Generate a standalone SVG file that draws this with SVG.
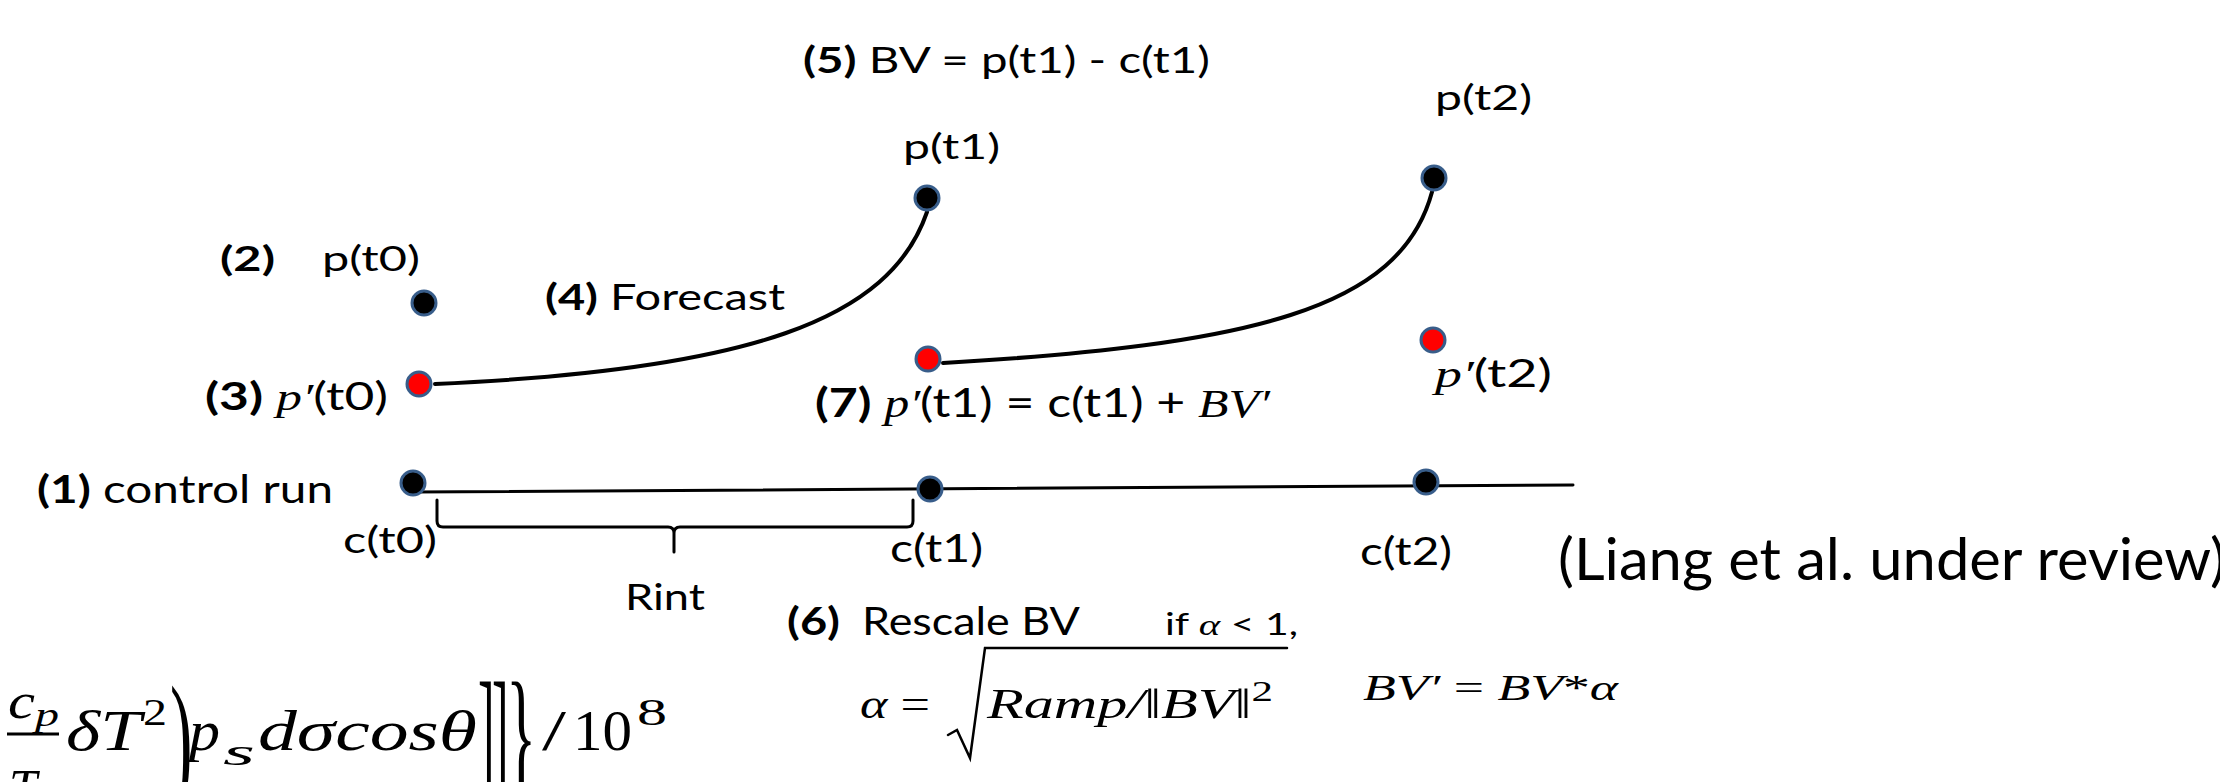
<svg xmlns="http://www.w3.org/2000/svg" width="2220" height="782" viewBox="0 0 2220 782">
<style>
.t{font-family:Lato,"Open Sans","Liberation Sans",sans-serif;fill:#000}
.b{font-weight:700}
.m{font-family:"Liberation Serif","DejaVu Serif",serif;font-style:italic;fill:#000}
.u{font-family:"Liberation Serif","DejaVu Serif",serif;font-style:normal;fill:#000}
.dk{fill:#000;stroke:#385D8A;stroke-width:3}
.dr{fill:#FF0000;stroke:#385D8A;stroke-width:3}
.ln{fill:none;stroke:#000;stroke-linecap:round}
</style>
<rect width="2220" height="782" fill="#fff"/>
<g id="connectors">
  <path class="ln" stroke-width="3" d="M413 492 L1573 485"/>
  <path class="ln" stroke-width="4" d="M435 384 C750 370 890 320 927 212"/>
  <path class="ln" stroke-width="4" d="M943 363 C1250 345 1400 310 1432 192"/>
  <path id="rint-brace" class="ln" stroke-width="3" d="M437 500 L437 521 Q437 527 443 527 L668 527 Q674 527 674 533 L674 552 M674 533 Q674 527 680 527 L907 527 Q913 527 913 521 L913 500"/>
</g>
<g id="node-p-t0">
  <circle class="dk" cx="424" cy="303" r="12"/>
  <text class="t b" x="220" y="271" font-size="35" textLength="55" lengthAdjust="spacingAndGlyphs">(2)</text>
  <text class="t" x="322" y="271" font-size="35" textLength="98" lengthAdjust="spacingAndGlyphs">p(t0)</text>
</g>
<g id="node-pprime-t0">
  <circle class="dr" cx="419" cy="384" r="12"/>
  <text class="t" x="205" y="410" font-size="38" textLength="183" lengthAdjust="spacingAndGlyphs"><tspan class="b">(3)</tspan> <tspan class="m">p′</tspan>(t0)</text>
</g>
<g id="node-c-t0">
  <circle class="dk" cx="413" cy="483" r="12"/>
  <text class="t" x="37" y="503" font-size="38" textLength="296" lengthAdjust="spacingAndGlyphs"><tspan class="b">(1)</tspan> control run</text>
  <text class="t" x="343" y="553" font-size="36" textLength="94" lengthAdjust="spacingAndGlyphs">c(t0)</text>
</g>
<g id="label-forecast">
  <text class="t" x="545" y="310" font-size="37" textLength="240" lengthAdjust="spacingAndGlyphs"><tspan class="b">(4)</tspan> Forecast</text>
</g>
<g id="label-bv">
  <text class="t" x="803" y="73" font-size="36" textLength="407" lengthAdjust="spacingAndGlyphs"><tspan class="b">(5)</tspan> BV = p(t1) - c(t1)</text>
</g>
<g id="node-p-t1">
  <circle class="dk" cx="927" cy="198" r="12"/>
  <text class="t" x="903" y="159" font-size="35" textLength="97" lengthAdjust="spacingAndGlyphs">p(t1)</text>
</g>
<g id="node-pprime-t1">
  <circle class="dr" cx="928" cy="359" r="12"/>
  <text class="t" x="815" y="417" font-size="40" textLength="455" lengthAdjust="spacingAndGlyphs"><tspan class="b">(7)</tspan> <tspan class="m">p′</tspan>(t1) = c(t1) + <tspan class="m">BV′</tspan></text>
</g>
<g id="node-c-t1">
  <circle class="dk" cx="930" cy="489" r="12"/>
  <text class="t" x="890" y="562" font-size="38" textLength="93" lengthAdjust="spacingAndGlyphs">c(t1)</text>
</g>
<g id="node-p-t2">
  <circle class="dk" cx="1434" cy="178" r="12"/>
  <text class="t" x="1435" y="110" font-size="35" textLength="97" lengthAdjust="spacingAndGlyphs">p(t2)</text>
</g>
<g id="node-pprime-t2">
  <circle class="dr" cx="1433" cy="340" r="12"/>
  <text class="t" x="1435" y="387" font-size="38" textLength="117" lengthAdjust="spacingAndGlyphs"><tspan class="m">p′</tspan>(t2)</text>
</g>
<g id="node-c-t2">
  <circle class="dk" cx="1426" cy="482" r="12"/>
  <text class="t" x="1360" y="565" font-size="38" textLength="92" lengthAdjust="spacingAndGlyphs">c(t2)</text>
</g>
<g id="label-rint">
  <text class="t" x="625" y="610" font-size="37" textLength="80" lengthAdjust="spacingAndGlyphs">Rint</text>
</g>
<g id="label-citation">
  <text class="t" x="1558" y="580" font-size="58" textLength="668" lengthAdjust="spacingAndGlyphs">(Liang et al. under review)</text>
</g>
<g id="label-rescale">
  <text class="t b" x="787" y="635" font-size="38" textLength="53" lengthAdjust="spacingAndGlyphs">(6)</text>
  <text class="t" x="862" y="635" font-size="38" textLength="218" lengthAdjust="spacingAndGlyphs">Rescale BV</text>
  <text class="t" x="1165" y="635" font-size="30" textLength="133" lengthAdjust="spacingAndGlyphs">if <tspan class="m">α</tspan> &lt; 1,</text>
  <text class="m" x="860" y="718" font-size="42" textLength="70" lengthAdjust="spacingAndGlyphs">α <tspan class="u">=</tspan></text>
  <path class="ln" stroke-width="2.5" stroke-linejoin="miter" d="M948 735 L957 730 L970 758 L985 648 L1287 648"/>
  <text class="m" x="987" y="718" font-size="42" textLength="286" lengthAdjust="spacingAndGlyphs">Ramp/<tspan class="u">‖</tspan>BV<tspan class="u">‖</tspan><tspan class="u" font-size="30" dy="-17">2</tspan></text>
  <text class="m" x="1363" y="700" font-size="36" textLength="255" lengthAdjust="spacingAndGlyphs">BV′ <tspan class="u">=</tspan>  BV<tspan class="u">*</tspan>α</text>
</g>
<g id="formula">
  <text class="m" x="8" y="718" font-size="50" textLength="27" lengthAdjust="spacingAndGlyphs">c</text>
  <text class="m" x="35" y="726" font-size="34" textLength="24" lengthAdjust="spacingAndGlyphs">p</text>
  <line x1="7" y1="734" x2="59" y2="734" stroke="#000" stroke-width="3"/>
  <text class="m" x="9" y="804" font-size="50" textLength="28" lengthAdjust="spacingAndGlyphs">T</text>
  <text class="m" x="39" y="812" font-size="34" textLength="20" lengthAdjust="spacingAndGlyphs">r</text>
  <text class="m" x="66" y="750" font-size="56" textLength="75" lengthAdjust="spacingAndGlyphs">δT</text>
  <text class="u" x="143" y="725" font-size="38" textLength="24" lengthAdjust="spacingAndGlyphs">2</text>
  <text class="u" font-size="150" transform="translate(170,790) scale(0.45,1)">)</text>
  <text class="m" x="189" y="750" font-size="56" textLength="31" lengthAdjust="spacingAndGlyphs">p</text>
  <text class="m" x="223" y="765" font-size="38" textLength="32" lengthAdjust="spacingAndGlyphs">s</text>
  <text class="m" x="258" y="750" font-size="56" textLength="219" lengthAdjust="spacingAndGlyphs">dσcosθ</text>
  <text class="u" font-size="150" transform="translate(478,786) scale(0.33,1)">]</text>
  <text class="u" font-size="150" transform="translate(492,786) scale(0.33,1)">]</text>
  <text class="u" font-size="150" transform="translate(506,786) scale(0.42,1)">}</text>
  <text class="u" x="542" y="750" font-size="56" textLength="24" lengthAdjust="spacingAndGlyphs">/</text>
  <text class="u" x="573" y="750" font-size="56" textLength="59" lengthAdjust="spacingAndGlyphs">10</text>
  <text class="u" x="637" y="725" font-size="38" textLength="30" lengthAdjust="spacingAndGlyphs">8</text>
</g>
</svg>
